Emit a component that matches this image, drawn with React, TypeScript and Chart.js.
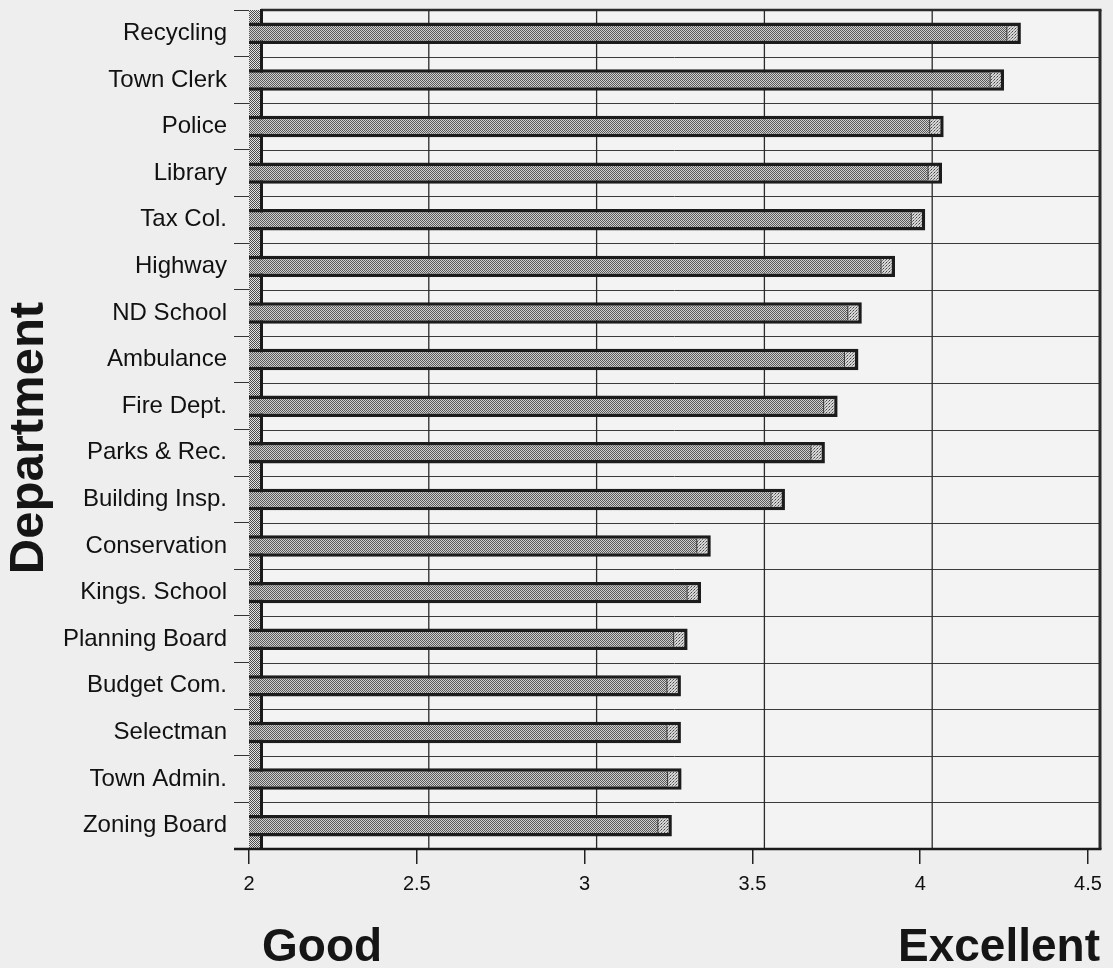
import React, { useEffect, useRef } from "react";
import { Chart, registerables } from "chart.js";

Chart.register(...registerables);

const categories = [
  "Recycling",
  "Town Clerk",
  "Police",
  "Library",
  "Tax Col.",
  "Highway",
  "ND School",
  "Ambulance",
  "Fire Dept.",
  "Parks & Rec.",
  "Building Insp.",
  "Conservation",
  "Kings. School",
  "Planning Board",
  "Budget Com.",
  "Selectman",
  "Town Admin.",
  "Zoning Board",
];

const ratings = [
  4.3, 4.25, 4.07, 4.065, 4.015, 3.925, 3.826, 3.816, 3.754, 3.716, 3.597,
  3.376, 3.347, 3.307, 3.287, 3.287, 3.289, 3.26,
];

const xTicks = [2, 2.5, 3, 3.5, 4, 4.5];

const axisTitle = "Department";
const lowLabel = "Good";
const highLabel = "Excellent";

const FONT = "'Liberation Sans', Arial, sans-serif";
const DEPTH = 12;

function makePattern(size: number, cells: [number, number, string][], bg: string) {
  const c = document.createElement("canvas");
  c.width = size;
  c.height = size;
  const g = c.getContext("2d")!;
  g.fillStyle = bg;
  g.fillRect(0, 0, size, size);
  for (const [x, y, col] of cells) {
    g.fillStyle = col;
    g.fillRect(x, y, 1, 1);
  }
  return g.createPattern(c, "repeat")!;
}

export default function App() {
  const ref = useRef<HTMLCanvasElement>(null);

  useEffect(() => {
    const canvas = ref.current!;
    const ctx0 = canvas.getContext("2d")!;
    const barPattern = makePattern(2, [[0, 0, "#5a5a5a"], [1, 1, "#5a5a5a"]], "#cfcfcf");
    const capPattern = makePattern(3, [[1, 1, "#444"], [0, 2, "#777"], [2, 0, "#999"]], "#d6d6d6");
    const wallPattern = makePattern(2, [[0, 0, "#4a4a4a"], [1, 1, "#4a4a4a"]], "#e2e2e2");

    const deco = {
      id: "deco",
      beforeDatasetsDraw(chart: any) {
        const { ctx, chartArea } = chart;
        const xs = chart.scales.x;
        const ys = chart.scales.y;
        const { left, right, top, bottom } = chartArea;
        ctx.save();
        ctx.fillStyle = "#f3f3f3";
        ctx.fillRect(left, top, right - left + DEPTH, bottom - top);
        const n = categories.length;
        const step = ys.getPixelForValue(1) - ys.getPixelForValue(0);
        ctx.strokeStyle = "#3a3a3a";
        ctx.lineWidth = 1;
        for (let i = 0; i < n; i++) {
          const yb = ys.getPixelForValue(i) - step / 2;
          ctx.beginPath();
          ctx.moveTo(left, Math.round(yb) + 0.5);
          ctx.lineTo(right + DEPTH, Math.round(yb) + 0.5);
          ctx.stroke();
        }
        ctx.strokeStyle = "#2a2a2a";
        for (const v of xTicks) {
          if (v === xTicks[0]) continue;
          const px = xs.getPixelForValue(v) + DEPTH;
          ctx.lineWidth = v === xTicks[xTicks.length - 1] ? 3 : 1.3;
          ctx.beginPath();
          ctx.moveTo(px, top);
          ctx.lineTo(px, bottom);
          ctx.stroke();
        }
        ctx.lineWidth = 2.5;
        ctx.beginPath();
        ctx.moveTo(left + DEPTH, top);
        ctx.lineTo(right + DEPTH + 1.5, top);
        ctx.stroke();
        ctx.fillStyle = wallPattern;
        ctx.fillRect(left, top, DEPTH - 1, bottom - top);
        ctx.fillStyle = "#1a1a1a";
        ctx.fillRect(left + DEPTH - 1, top - 1, 3, bottom - top + 1);
        ctx.restore();
      },
      afterDatasetsDraw(chart: any) {
        const { ctx, chartArea } = chart;
        const { left, right, bottom } = chartArea;
        const meta = chart.getDatasetMeta(0);
        ctx.save();
        for (const el of meta.data) {
          const { x, y, height } = el.getProps(["x", "y", "height"], true);
          const bw = 3.5;
          const cx = x - bw - 11;
          ctx.fillStyle = capPattern;
          ctx.fillRect(cx, y - height / 2 + bw, 11, height - 2 * bw);
          ctx.fillStyle = "#333";
          ctx.fillRect(cx, y - height / 2 + bw, 1, height - 2 * bw);
        }
        ctx.strokeStyle = "#1a1a1a";
        ctx.lineWidth = 2.5;
        ctx.beginPath();
        ctx.moveTo(left - 15, bottom);
        ctx.lineTo(right + DEPTH + 1.5, bottom);
        ctx.stroke();
        ctx.restore();
      },
      afterDraw(chart: any) {
        const { ctx, chartArea } = chart;
        const xs = chart.scales.x;
        ctx.save();
        ctx.fillStyle = "#151515";
        ctx.font = `bold 46px ${FONT}`;
        ctx.textBaseline = "alphabetic";
        ctx.textAlign = "left";
        ctx.fillText(lowLabel, chartArea.left + 13, 961);
        ctx.textAlign = "right";
        ctx.fillText(highLabel, xs.getPixelForValue(4.5) + DEPTH, 961);
        ctx.translate(43, 438);
        ctx.rotate(-Math.PI / 2);
        ctx.textAlign = "center";
        ctx.font = `bold 49px ${FONT}`;
        ctx.fillText(axisTitle, 0, 0);
        ctx.restore();
      },
    };

    const chart = new Chart(ctx0, {
      type: "bar",
      data: {
        labels: categories,
        datasets: [
          {
            data: ratings,
            backgroundColor: barPattern as any,
            borderColor: "#1c1c1c",
            borderWidth: 3.5,
            borderSkipped: false,
            barPercentage: 0.46,
            categoryPercentage: 1,
          },
        ],
      },
      options: {
        indexAxis: "y",
        animation: false,
        responsive: false,
        events: [],
        layout: { padding: { top: 10, right: 25, left: 0, bottom: 0 } },
        plugins: {
          legend: { display: false },
          tooltip: { enabled: false },
        },
        scales: {
          x: {
            type: "linear",
            min: xTicks[0],
            max: xTicks[xTicks.length - 1],
            afterBuildTicks: (scale: any) => {
              scale.ticks = xTicks.map((v) => ({ value: v }));
            },
            afterFit: (scale: any) => {
              scale.height = 119;
            },
            grid: {
              drawOnChartArea: false,
              drawTicks: true,
              tickLength: 15,
              color: "#222",
              lineWidth: 1.5,
            },
            border: { display: false },
            ticks: {
              padding: 8,
              color: "#111",
              font: { family: FONT, size: 20 },
              maxRotation: 0,
              autoSkip: false,
              callback: (v: any) => String(v),
            },
          },
          y: {
            type: "category",
            afterFit: (scale: any) => {
              scale.width = 249;
              scale.paddingTop = 0;
              scale.paddingBottom = 0;
            },
            grid: {
              drawOnChartArea: false,
              drawTicks: true,
              tickLength: 15,
              color: "#333",
              lineWidth: 1,
              offset: true,
            },
            border: { display: false },
            ticks: {
              padding: 7,
              color: "#111",
              font: { family: FONT, size: 24, lineHeight: 0.7 },
              autoSkip: false,
            },
          },
        },
      },
      plugins: [deco],
    } as any);

    return () => chart.destroy();
  }, []);

  return (
    <div
      style={{
        position: "fixed",
        left: 0,
        top: 0,
        width: 1113,
        height: 968,
        background: "#eeeeee",
      }}
    >
      <canvas ref={ref} width={1113} height={968} style={{ display: "block" }} />
    </div>
  );
}
